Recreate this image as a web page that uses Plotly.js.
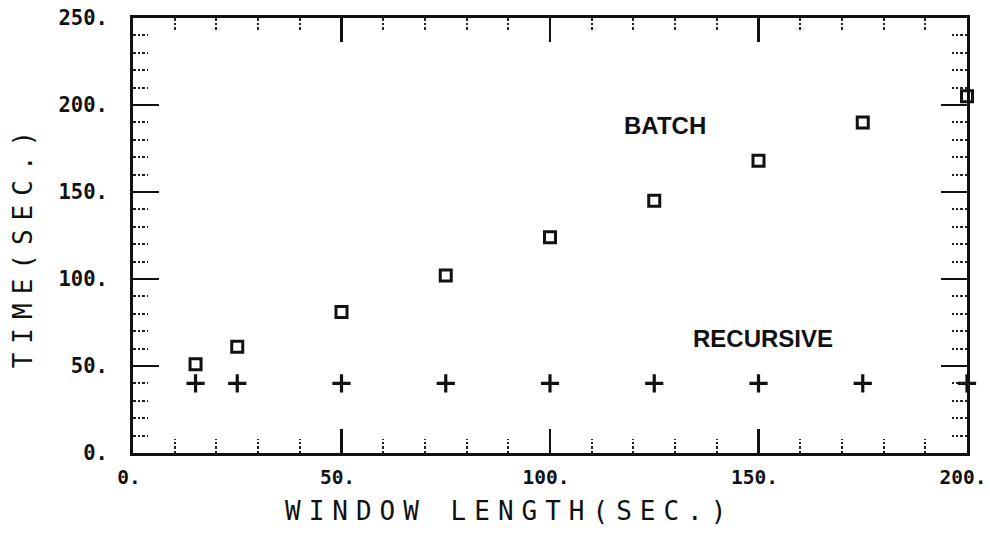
<!DOCTYPE html>
<html>
<head>
<meta charset="utf-8">
<script src="https://cdn.plot.ly/plotly-3.0.1.min.js"></script>
<style>
  html, body { margin: 0; padding: 0; background: #fff; }
  #chart { width: 990px; height: 548px; }
  .annotation[data-index="2"] text { letter-spacing: 9px; }
  .annotation[data-index="3"] text { letter-spacing: 8px; }
</style>
</head>
<body>
<div id="chart"></div>
<script>
// Window length (sec.)
const windowLength = [15, 25, 50, 75, 100, 125, 150, 175, 200];
// Batch computation time (sec.)
const batchTime = [51, 61, 81, 102, 124, 145, 168, 190, 205];
// Recursive computation time (sec.)
const recursiveTime = [40, 40, 40, 40, 40, 40, 40, 40, 40];

const xTickVals = [0, 50, 100, 150, 200];
const xTickText = ['0.', '50.', '100.', '150.', '200.'];
const yTickVals = [0, 50, 100, 150, 200, 250];
const yTickText = ['0.', '50.', '100.', '150.', '200.', '250.'];

const yLabelFont = { family: 'DejaVu Sans Mono', size: 20.5, color: '#111', weight: 'bold' };
const xLabelFont = { family: 'DejaVu Sans Mono', size: 19.5, color: '#111', weight: 'bold' };

const traces = [
  {
    x: windowLength, y: batchTime, type: 'scatter', mode: 'markers', name: 'BATCH', cliponaxis: false,
    marker: { symbol: 'square-open', size: 11, color: '#111', line: { width: 3, color: '#111' } }
  },
  {
    x: windowLength, y: recursiveTime, type: 'scatter', mode: 'markers', name: 'RECURSIVE', cliponaxis: false,
    marker: { symbol: 'cross-thin-open', size: 13, color: '#111', line: { width: 3.2, color: '#111' } }
  }
];

const layout = {
  width: 990, height: 548,
  margin: { l: 133, r: 23, t: 18, b: 95 },
  paper_bgcolor: '#fff', plot_bgcolor: '#fff',
  showlegend: false,
  xaxis: {
    range: [0, 200], tickvals: xTickVals, ticktext: xTickText,
    showgrid: false, zeroline: false,
    showline: true, linewidth: 3, linecolor: '#111', mirror: 'ticks',
    ticks: 'inside', ticklen: 24, tickwidth: 2.5, tickcolor: '#111',
    ticklabelstandoff: 5, ticklabelshift: -4, ticklabeloverflow: 'allow',
    tickfont: xLabelFont,
    minor: { dtick: 10, ticks: 'inside', ticklen: 14, tickwidth: 2, tickcolor: '#222', showgrid: false }
  },
  yaxis: {
    range: [0, 250], tickvals: yTickVals, ticktext: yTickText,
    showgrid: false, zeroline: false,
    showline: true, linewidth: 3, linecolor: '#111', mirror: 'ticks',
    ticks: 'inside', ticklen: 26, tickwidth: 2.5, tickcolor: '#111',
    ticklabelstandoff: 18, ticklabeloverflow: 'allow',
    tickfont: yLabelFont,
    minor: { dtick: 10, ticks: 'inside', ticklen: 15, tickwidth: 2, tickcolor: '#222', showgrid: false }
  },
  annotations: [
    { x: 127.6, y: 188.5, xref: 'x', yref: 'y', text: 'BATCH', showarrow: false,
      font: { family: 'Liberation Sans', size: 24, color: '#111', weight: 'bold' } },
    { x: 151, y: 66, xref: 'x', yref: 'y', text: 'RECURSIVE', showarrow: false,
      font: { family: 'Liberation Sans', size: 24, color: '#111', weight: 'bold' } },
    { x: -0.152, y: 0.478, xref: 'paper', yref: 'paper', text: 'TIME(SEC.)', showarrow: false,
      textangle: -90, font: { family: 'DejaVu Sans Mono', size: 26, color: '#111' } },
    { x: 0.452, y: -0.172, xref: 'paper', yref: 'paper', text: 'WINDOW LENGTH(SEC.)', showarrow: false,
      font: { family: 'DejaVu Sans Mono', size: 26, color: '#111' } }
  ]
};

Plotly.newPlot('chart', traces, layout, { displayModeBar: false, staticPlot: true }).then(function () {
  document.querySelectorAll('path').forEach(function (p) {
    const d = p.getAttribute('d') || '';
    if (/[hv]-?1[45]$/.test(d)) {
      p.style.strokeDasharray = '2.5,2';
    }
  });
});
</script>
</body>
</html>
